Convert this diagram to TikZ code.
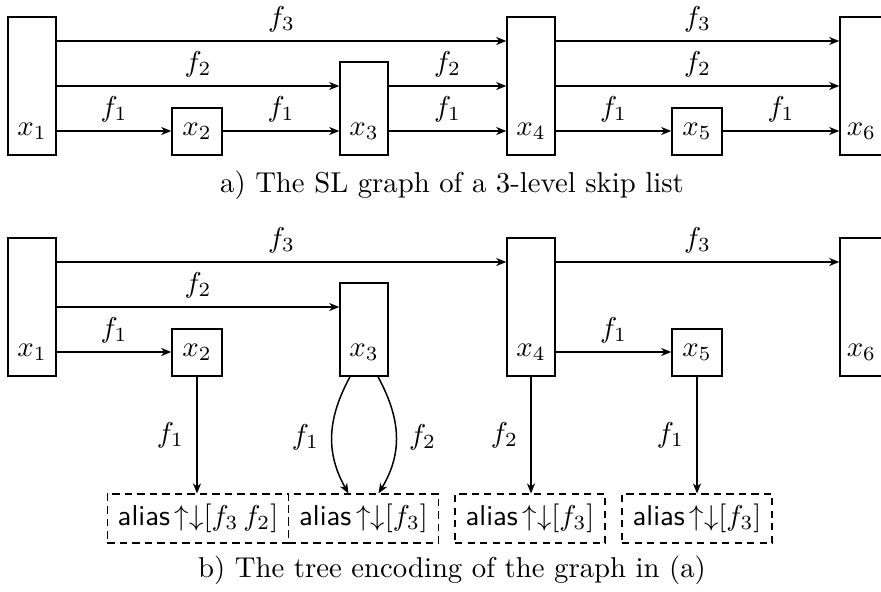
\documentclass[tikz,border=0pt]{standalone}
\usetikzlibrary{arrows.meta,calc}
\begin{document}
\begin{tikzpicture}[x=0.348pt,y=-0.348pt,
  cellbox/.style={draw,line width=0.52pt,inner sep=0pt},
  tallbox/.style={cellbox,minimum width=16.7pt,minimum height=48pt},
  midbox/.style={cellbox,minimum width=16.7pt,minimum height=32.4pt},
  smallbox/.style={cellbox,minimum width=17.4pt,minimum height=16.4pt},
  boxlab/.style={inner sep=0pt},
  arr/.style={line width=0.52pt,-{Stealth[length=3.5pt,width=2.8pt,inset=1.05pt]}},
  elab/.style={inner sep=3pt},
  aliasbox/.style={draw,dash pattern=on 2.6pt off 1.75pt,line width=0.36pt,minimum height=17.05pt,inner sep=0pt},
  captxt/.style={inner sep=0pt}]
\useasboundingbox (0,0) rectangle (881,592);
\clip (0,0) rectangle (881,592);
% ---------- (a) ----------
\coordinate (a3) at (0,41);
\coordinate (a2) at (0,86);
\coordinate (a1) at (0,131);
\node[tallbox]  (A1) at (32,86) {};
\node[smallbox] (A2) at (197,131.5) {};
\node[midbox]   (A3) at (364,108.5) {};
\node[tallbox]  (A4) at (531,86) {};
\node[smallbox] (A5) at (697,131.5) {};
\node[tallbox]  (A6) at (864,86) {};
\node[boxlab] (A1t) at (A1 |- a1) {$x_1$};
\node[boxlab] (A2t) at (A2 |- a1) {$x_2$};
\node[boxlab] (A3t) at (A3 |- a1) {$x_3$};
\node[boxlab] (A4t) at (A4 |- a1) {$x_4$};
\node[boxlab] (A5t) at (A5 |- a1) {$x_5$};
\node[boxlab] (A6t) at ([xshift=-0.9pt]A6 |- a1) {$x_6$};
\draw[arr] (A1.east |- a3) -- node[elab,above]{$f_3$} (A4.west |- a3);
\draw[arr] (A4.east |- a3) -- node[elab,above]{$f_3$} (A6.west |- a3);
\draw[arr] (A1.east |- a2) -- node[elab,above]{$f_2$} (A3.west |- a2);
\draw[arr] (A3.east |- a2) -- node[elab,above]{$f_2$} (A4.west |- a2);
\draw[arr] (A4.east |- a2) -- node[elab,above]{$f_2$} (A6.west |- a2);
\draw[arr] (A1.east |- a1) -- node[elab,above]{$f_1$} (A2.west |- a1);
\draw[arr] (A2.east |- a1) -- node[elab,above]{$f_1$} (A3.west |- a1);
\draw[arr] (A3.east |- a1) -- node[elab,above]{$f_1$} (A4.west |- a1);
\draw[arr] (A4.east |- a1) -- node[elab,above]{$f_1$} (A5.west |- a1);
\draw[arr] (A5.east |- a1) -- node[elab,above]{$f_1$} (A6.west |- a1);
\node[captxt] (capa) at (452,185) {a) The SL graph of a 3-level skip list};
% ---------- (b) ----------
\coordinate (b3) at (0,262);
\coordinate (b2) at (0,307);
\coordinate (b1) at (0,352);
\node[tallbox]  (B1) at (32,307) {};
\node[smallbox] (B2) at (197,352.5) {};
\node[midbox]   (B3) at (364,329.5) {};
\node[tallbox]  (B4) at (531,307) {};
\node[smallbox] (B5) at (697,352.5) {};
\node[tallbox]  (B6) at (864,307) {};
\node[boxlab] (B1t) at (B1 |- b1) {$x_1$};
\node[boxlab] (B2t) at (B2 |- b1) {$x_2$};
\node[boxlab] (B3t) at (B3 |- b1) {$x_3$};
\node[boxlab] (B4t) at (B4 |- b1) {$x_4$};
\node[boxlab] (B5t) at (B5 |- b1) {$x_5$};
\node[boxlab] (B6t) at ([xshift=-0.9pt]B6 |- b1) {$x_6$};
\draw[arr] (B1.east |- b3) -- node[elab,above]{$f_3$} (B4.west |- b3);
\draw[arr] (B4.east |- b3) -- node[elab,above]{$f_3$} (B6.west |- b3);
\draw[arr] (B1.east |- b2) -- node[elab,above]{$f_2$} (B3.west |- b2);
\draw[arr] (B1.east |- b1) -- node[elab,above]{$f_1$} (B2.west |- b1);
\draw[arr] (B4.east |- b1) -- node[elab,above]{$f_1$} (B5.west |- b1);
\node[aliasbox,minimum width=63.3pt] (L1) at (198,518.5) {\textsf{alias}$\,\mathord{\uparrow}\mathord{\downarrow}[f_3\,f_2]$};
\node[aliasbox,minimum width=52.5pt] (L2) at (363.5,518.5) {\textsf{alias}$\,\mathord{\uparrow}\mathord{\downarrow}[f_3]$};
\node[aliasbox,minimum width=52.2pt] (L3) at (530,518.5) {\textsf{alias}$\,\mathord{\uparrow}\mathord{\downarrow}[f_3]$};
\node[aliasbox,minimum width=52.2pt] (L4) at (697,518.5) {\textsf{alias}$\,\mathord{\uparrow}\mathord{\downarrow}[f_3]$};
\draw[arr] (B2.south) -- node[elab,left,xshift=-1.3pt]{$f_1$} (B2.south |- L1.north);
\draw[arr] ($(B3.south)+(-14,0)$) .. controls +(-24,44) and +(-22,-39) .. node[elab,left,xshift=-1.3pt]{$f_1$} ($(L2.north)+(-15,0)$);
\draw[arr] ($(B3.south)+(14,0)$) .. controls +(24,44) and +(23.5,-39) .. node[elab,right,xshift=1.3pt]{$f_2$} ($(L2.north)+(15,0)$);
\draw[arr] (B4.south) -- node[elab,left,xshift=-1.3pt]{$f_2$} (B4.south |- L3.north);
\draw[arr] (B5.south) -- node[elab,left,xshift=-1.3pt]{$f_1$} (B5.south |- L4.north);
\node[captxt] (capb) at (452,570) {b) The tree encoding of the graph in (a)};
\end{tikzpicture}
\end{document}
